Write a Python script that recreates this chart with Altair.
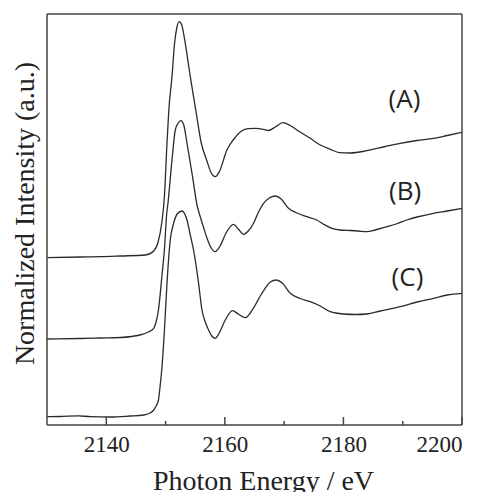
import altair as alt
import pandas as pd

# Spectrum (A)
energy_A = [2130.0, 2135.6, 2139.0, 2142.4, 2146.6, 2148.0, 2148.7, 2149.4, 2149.8, 2150.24,
            2150.55, 2151.08, 2151.52, 2151.89, 2152.31, 2152.73, 2153.32, 2154.17, 2155.09, 2156.02,
            2156.98, 2157.7, 2158.38, 2159.05, 2160.35, 2161.4, 2162.88, 2163.9, 2165.13, 2166.5,
            2167.37, 2168.5, 2169.8, 2171.0, 2172.16, 2174.4, 2176.09, 2177.78, 2179.34, 2181.15,
            2183.96, 2187.05, 2189.58, 2192.4, 2195.19, 2197.5, 2200.0]
intensity_A = [1.673, 1.68, 1.683, 1.69, 1.70, 1.74, 1.82, 2.04, 2.28, 2.82,
               3.15, 3.483, 3.817, 3.97, 4.033, 4.00, 3.817, 3.483, 3.15, 2.82,
               2.64, 2.52, 2.483, 2.53, 2.75, 2.85, 2.943, 2.963, 2.967, 2.957,
               2.945, 2.98, 3.023, 2.995, 2.95, 2.867, 2.80, 2.757, 2.723, 2.72,
               2.743, 2.785, 2.817, 2.845, 2.867, 2.895, 2.927]

# Spectrum (B)
energy_B = [2130.0, 2135.6, 2139.0, 2142.4, 2145.7, 2147.1, 2148.0, 2148.4, 2148.8, 2149.4,
            2149.8, 2150.2, 2150.37, 2151.08, 2151.64, 2152.14, 2152.6, 2153.07, 2153.61, 2154.55,
            2155.3, 2155.85, 2156.44, 2156.98, 2157.7, 2158.38, 2159.2, 2160.2, 2161.47, 2162.26,
            2163.15, 2163.95, 2164.84, 2165.6, 2166.53, 2167.5, 2168.5, 2169.5, 2170.74, 2172.16,
            2173.84, 2175.5, 2176.6, 2178.06, 2179.46, 2181.15, 2182.5, 2183.96, 2185.36, 2187.33,
            2188.9, 2190.7, 2192.4, 2195.19, 2197.5, 2200.0]
intensity_B = [0.86, 0.865, 0.87, 0.875, 0.90, 0.93, 0.967, 1.03, 1.15, 1.50,
               1.75, 2.12, 2.20, 2.65, 2.95, 3.02, 3.043, 3.00, 2.82, 2.483,
               2.20, 2.083, 1.97, 1.87, 1.77, 1.733, 1.79, 1.92, 2.007, 1.96,
               1.907, 1.94, 2.017, 2.12, 2.217, 2.27, 2.29, 2.26, 2.167, 2.12,
               2.083, 2.05, 2.01, 1.967, 1.95, 1.945, 1.94, 1.933, 1.95, 1.983,
               2.01, 2.05, 2.08, 2.117, 2.14, 2.167]

# Spectrum (C)
energy_C = [2130.0, 2132.2, 2135.3, 2137.3, 2140.7, 2144.0, 2146.3, 2147.4, 2148.0, 2148.4,
            2148.8, 2149.1, 2149.4, 2149.78, 2150.24, 2150.79, 2151.35, 2151.97, 2152.77, 2153.15,
            2153.61, 2154.17, 2154.72, 2155.57, 2156.14, 2156.7, 2157.25, 2157.8, 2158.38, 2159.05,
            2160.07, 2161.3, 2162.26, 2163.44, 2164.28, 2165.13, 2165.97, 2166.8, 2167.66, 2168.67,
            2169.68, 2171.03, 2172.7, 2174.4, 2176.09, 2177.78, 2180.0, 2182.0, 2183.96, 2186.2,
            2189.58, 2192.4, 2195.19, 2197.5, 2200.0]
intensity_C = [0.083, 0.085, 0.092, 0.083, 0.08, 0.09, 0.10, 0.12, 0.15, 0.19,
               0.25, 0.40, 0.583, 0.917, 1.417, 1.85, 2.017, 2.11, 2.14, 2.12,
               2.05, 1.90, 1.75, 1.417, 1.15, 1.03, 0.95, 0.89, 0.867, 0.92,
               1.05, 1.143, 1.11, 1.073, 1.12, 1.20, 1.29, 1.367, 1.43, 1.45,
               1.42, 1.317, 1.265, 1.233, 1.19, 1.133, 1.11, 1.105, 1.11, 1.14,
               1.183, 1.23, 1.267, 1.30, 1.317]

labels = ["(A)", "(B)", "(C)"]
label_energy = [2190.3, 2190.4, 2190.8]
label_intensity = [3.25, 2.33, 1.47]

major_ticks = [2140, 2160, 2180, 2200]
minor_ticks = [2150, 2170, 2190]

x_range = [2130, 2200]
y_range = [0, 4.11]

rows = []
for name, es, vs in [("A", energy_A, intensity_A), ("B", energy_B, intensity_B), ("C", energy_C, intensity_C)]:
    for e, v in zip(es, vs):
        rows.append({"series": name, "energy": e, "intensity": v})
df = pd.DataFrame(rows)
df_lab = pd.DataFrame({"label": labels, "energy": label_energy, "intensity": label_intensity})
df_major = pd.DataFrame({"energy": major_ticks, "y0": [y_range[0]] * 4, "y1": [0.08] * 4})
df_minor = pd.DataFrame({"energy": minor_ticks, "y0": [y_range[0]] * 3, "y1": [0.04] * 3})
df_hframe = pd.DataFrame({"x0": [x_range[0]] * 2, "x1": [x_range[1]] * 2, "y": y_range})
df_vframe = pd.DataFrame({"x": x_range, "y0": [y_range[0]] * 2, "y1": [y_range[1]] * 2})

W, H = 415, 411
xscale = alt.Scale(domain=x_range, nice=False, zero=False)
yscale = alt.Scale(domain=y_range, nice=False, zero=False)

xaxis = alt.Axis(values=major_ticks, format="d", ticks=False, domain=False, grid=False,
                 labelFont="Liberation Serif", labelFontSize=23, labelColor="#222",
                 labelPadding=8, title="Photon Energy / eV", titleFont="Liberation Serif",
                 titleFontSize=28, titleFontWeight="normal", titleColor="#222",
                 titleX=216, titleY=64, titleBaseline="alphabetic", titleAnchor="middle")
yaxis = alt.Axis(labels=False, ticks=False, domain=False, grid=False,
                 title="Normalized Intensity (a.u.)", titleFont="Liberation Serif",
                 titleFontSize=28, titleFontWeight="normal", titleColor="#222",
                 titleX=-14, titleY=199, titleAngle=270, titleBaseline="alphabetic",
                 titleAlign="center")

lines = alt.Chart(df).mark_line(interpolate="monotone", color="#2b2b2b", strokeWidth=1.3).encode(
    x=alt.X("energy:Q", scale=xscale, axis=xaxis),
    y=alt.Y("intensity:Q", scale=yscale, axis=yaxis),
    detail="series:N",
)

text = alt.Chart(df_lab).mark_text(font="Open Sans", fontSize=26, color="#222",
                                   align="center", baseline="middle").encode(
    x=alt.X("energy:Q", scale=xscale),
    y=alt.Y("intensity:Q", scale=yscale),
    text="label:N",
)

rule_style = dict(color="#444", strokeWidth=1.5)
major = alt.Chart(df_major).mark_rule(**rule_style).encode(
    x=alt.X("energy:Q", scale=xscale), y=alt.Y("y0:Q", scale=yscale), y2="y1:Q")
minor = alt.Chart(df_minor).mark_rule(**rule_style).encode(
    x=alt.X("energy:Q", scale=xscale), y=alt.Y("y0:Q", scale=yscale), y2="y1:Q")
hframe = alt.Chart(df_hframe).mark_rule(**rule_style).encode(
    x=alt.X("x0:Q", scale=xscale), x2="x1:Q", y=alt.Y("y:Q", scale=yscale))
vframe = alt.Chart(df_vframe).mark_rule(**rule_style).encode(
    x=alt.X("x:Q", scale=xscale), y=alt.Y("y0:Q", scale=yscale), y2="y1:Q")

chart = alt.layer(lines, text, major, minor, hframe, vframe).properties(
    width=W, height=H,
    background="white",
    autosize=alt.AutoSizeParams(type="none"),
    padding={"left": 47, "top": 14, "right": 19, "bottom": 67},
).configure_view(strokeWidth=0)

chart.save("out.html", embed_options={"renderer": "svg", "actions": False})
